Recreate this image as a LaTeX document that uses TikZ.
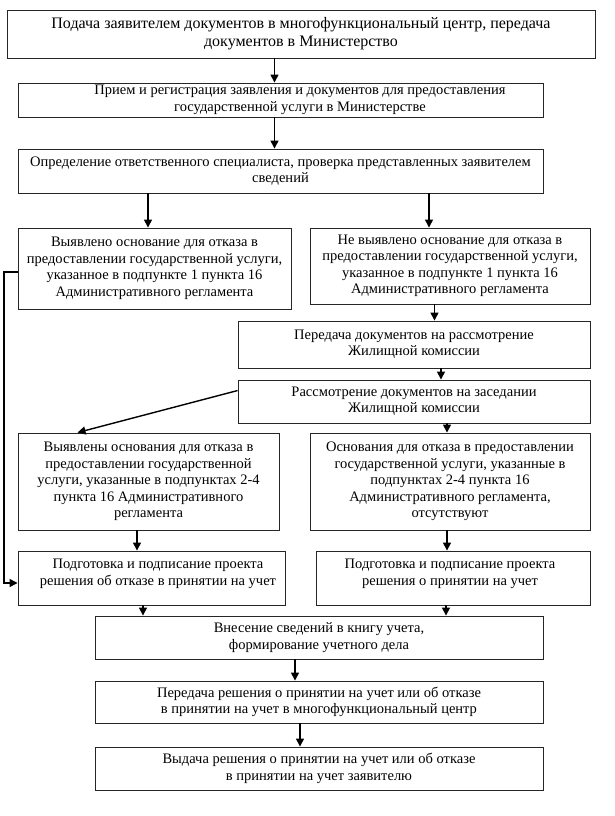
\documentclass[tikz,border=0pt]{standalone}
\usepackage{fontspec}
\setmainfont{Liberation Serif}
\usetikzlibrary{arrows.meta,calc}
\begin{document}
\begin{tikzpicture}[x=1pt,y=-1pt,
  box/.style={draw=black!85, line width=0.9pt, rectangle, inner sep=0pt},
  txt/.style={align=center, font=\fontsize{14.5}{16.5}\selectfont, inner sep=0pt},
  arr/.style={line width=1.4pt, -{Triangle[length=8pt,width=8pt]}}]
\useasboundingbox[fill=white] (0,0) rectangle (615,816);

\node[box, txt, font=\fontsize{16}{18}\selectfont, minimum width=588pt, minimum height=48pt] (b1) at (301,34)
  {Подача заявителем документов в многофункциональный центр, передача\\документов в Министерство};
\node[box, minimum width=525pt, minimum height=34pt] (b2) at (280.5,100) {};
\node[txt] (t2) at (300,100) {Прием и регистрация заявления и документов для предоставления\\государственной услуги в Министерстве};
\node[box, txt, minimum width=525pt, minimum height=44pt] (b3) at (280.5,171)
  {Определение ответственного специалиста, проверка представленных заявителем\\сведений};
\node[box, txt, minimum width=273pt, minimum height=81pt] (b4l) at (154.5,268.5)
  {Выявлено основание для отказа в\\предоставлении государственной услуги,\\указанное в подпункте 1 пункта 16\\Административного регламента};
\node[box, txt, minimum width=280pt, minimum height=76pt] (b4r) at (450,266)
  {Не выявлено основание для отказа в\\предоставлении государственной услуги,\\указанное в подпункте 1 пункта 16\\Административного регламента};
\node[box, txt, minimum width=352pt, minimum height=47pt] (b5) at (414,344.5)
  {Передача документов на рассмотрение\\Жилищной комиссии};
\node[box, txt, minimum width=352pt, minimum height=43pt] (b6) at (414,401.5)
  {Рассмотрение документов на заседании\\Жилищной комиссии};
\node[box, txt, minimum width=261pt, minimum height=97pt] (b7l) at (148.5,481.5)
  {Выявлены основания для отказа в\\предоставлении государственной\\услуги, указанные в подпунктах 2-4\\пункта 16 Административного\\регламента};
\node[box, txt, minimum width=280pt, minimum height=97pt] (b7r) at (450,481.5)
  {Основания для отказа в предоставлении\\государственной услуги, указанные в\\подпунктах 2-4 пункта 16\\Административного регламента,\\отсутствуют};
\node[box, minimum width=267pt, minimum height=54pt] (b8l) at (151.5,578) {};
\node[txt] (t8l) at (158,574) {Подготовка и подписание проекта\\решения об отказе в принятии на учет};
\node[box, minimum width=274pt, minimum height=54pt] (b8r) at (453,578) {};
\node[txt] (t8r) at (450,574) {Подготовка и подписание проекта\\решения о принятии на учет};
\node[box, txt, minimum width=448pt, minimum height=43pt] (b9) at (319,637.5)
  {Внесение сведений в книгу учета,\\формирование учетного дела};
\node[box, txt, minimum width=448pt, minimum height=42pt] (b10) at (319,702)
  {Передача решения о принятии на учет или об отказе\\в принятии на учет в многофункциональный центр};
\node[box, txt, minimum width=448pt, minimum height=43pt] (b11) at (319,768.5)
  {Выдача решения о принятии на учет или об отказе\\в принятии на учет заявителю};

\coordinate (xa) at (274.5,0);
\coordinate (xb) at (148,0);
\coordinate (xc) at (429,0);
\coordinate (xd) at (434.5,0);
\coordinate (xe) at (441,0);
\coordinate (xf) at (447,0);
\coordinate (xg) at (137,0);
\coordinate (xh) at (143,0);
\coordinate (xi) at (446,0);
\coordinate (xj) at (295,0);
\coordinate (xk) at (300,0);
\coordinate (lc) at (4,272);

\draw[arr] (b1.south -| xa) -- (b2.north -| xa);
\draw[arr] (b2.south -| xa) -- (b3.north -| xa);
\draw[arr] (b3.south -| xb) -- (b4l.north -| xb);
\draw[arr] (b3.south -| xc) -- (b4r.north -| xc);
\draw[arr] (b4r.south -| xd) -- (b5.north -| xd);
\draw[arr] (b5.south -| xe) -- (b6.north -| xe);
\draw[arr] ($(b6.north west)+(0,11)$) -- ($(b7l.north west)+(60,0)$);
\draw[arr] (b6.south -| xf) -- (b7r.north -| xf);
\draw[arr] (b7l.south -| xg) -- (b8l.north -| xg);
\draw[arr] (b7r.south -| xf) -- (b8r.north -| xf);
\draw[arr] (b8l.south -| xh) -- (b9.north -| xh);
\draw[arr] (b8r.south -| xi) -- (b9.north -| xi);
\draw[arr] (b9.south -| xj) -- (b10.north -| xj);
\draw[arr] (b10.south -| xk) -- (b11.north -| xk);
\draw[arr] ($(b4l.west)+(0,3.5)$) -- (lc) |- ($(b8l.west)+(0,5)$);
\end{tikzpicture}
\end{document}
